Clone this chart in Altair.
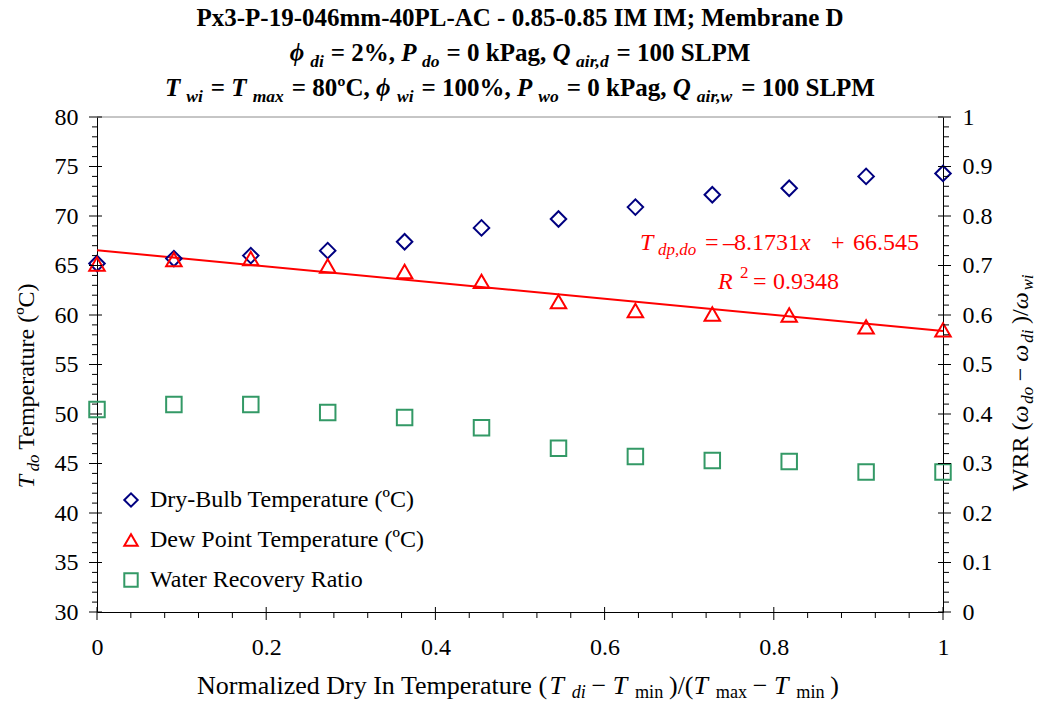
import altair as alt
import pandas as pd

# ---------------- data ----------------
x_norm = [0.0, 0.0909, 0.1818, 0.2727, 0.3636, 0.4545, 0.5455, 0.6364, 0.7273, 0.8182, 0.9091, 1.0]
dry_bulb = [65.2, 65.7, 66.0, 66.5, 67.4, 68.8, 69.7, 70.9, 72.15, 72.8, 74.0, 74.3]
dew_point = [65.15, 65.6, 65.7, 64.95, 64.4, 63.4, 61.35, 60.45, 60.1, 60.0, 58.8, 58.5]
wrr = [0.409, 0.419, 0.419, 0.403, 0.393, 0.372, 0.331, 0.314, 0.306, 0.304, 0.283, 0.283]
fit_slope = -8.1731
fit_intercept = 66.545

series = ["Dry-Bulb Temperature (ºC)", "Dew Point Temperature (ºC)", "Water Recovery Ratio"]
colors = ["#000080", "#FF0000", "#339966"]
shapes = ["diamond", "triangle-up", "square"]

x_ticks = [0, 0.2, 0.4, 0.6, 0.8, 1]
x_minor = [0.04, 0.08, 0.12, 0.16, 0.24, 0.28, 0.32, 0.36, 0.44, 0.48, 0.52, 0.56,
           0.64, 0.68, 0.72, 0.76, 0.84, 0.88, 0.92, 0.96]
t_ticks = [30, 35, 40, 45, 50, 55, 60, 65, 70, 75, 80]
t_minor = [v for v in range(30, 81) if v % 5]
w_ticks = [0, 0.1, 0.2, 0.3, 0.4, 0.5, 0.6, 0.7, 0.8, 0.9, 1]
w_minor = [i / 50 for i in range(51) if i % 5]

W, H = 846, 495
OX, OY = 97, 117
FONT = "Liberation Serif"

# ---------------- text metrics (Times-compatible widths /1000 em) ----------------
def _tbl(base, extra):
    d = dict(base)
    d.update(extra)
    return d

_digits = {str(i): 500 for i in range(10)}
W_R = _tbl(_digits, {' ': 250, '%': 833, '(': 333, ')': 333, '+': 564, ',': 250, '-': 333, '.': 250,
                     '/': 278, ';': 278, '=': 564, 'º': 310, '−': 564, '–': 500,
                     'A': 722, 'B': 667, 'C': 667, 'D': 722, 'I': 333, 'N': 722, 'R': 667, 'T': 611,
                     'W': 944, 'a': 444, 'd': 500, 'e': 444, 'i': 278, 'l': 278, 'm': 778, 'n': 500,
                     'o': 500, 'p': 500, 'r': 333, 't': 278, 'u': 500, 'x': 500, 'y': 500, 'z': 444})
W_I = _tbl(_digits, {' ': 250, ',': 250, 'T': 556, 'R': 611, 'a': 500, 'd': 500, 'i': 278, 'm': 722,
                     'o': 500, 'p': 500, 'w': 667, 'x': 444, 'ω': 667})
W_B = _tbl(_digits, {' ': 250, '%': 1000, ',': 250, '-': 333, '.': 250, ';': 333, '=': 570, 'º': 330,
                     'A': 722, 'C': 722, 'D': 722, 'I': 389, 'L': 667, 'M': 944, 'P': 611, 'S': 556,
                     'a': 500, 'b': 556, 'e': 444, 'g': 500, 'k': 556, 'm': 833, 'n': 556, 'r': 444,
                     'x': 500})
W_BI = _tbl(_digits, {' ': 250, ',': 250, 'T': 611, 'P': 611, 'Q': 722, 'a': 500, 'd': 500, 'i': 278,
                      'm': 778, 'o': 500, 'r': 389, 'w': 667, 'x': 500, 'ϕ': 600})
TABLES = {"r": W_R, "i": W_I, "b": W_B, "bi": W_BI}


def tw(s, st, fs):
    t = TABLES[st]
    return sum(t.get(c, 500) for c in s) / 1000.0 * fs


def rich(segs, cx, cy, fs, angle=0, color="black", sub_scale=0.7, pre=0.18, post=0.22, drop=0.22):
    """segs: list of (text, style, pos). Centered at (cx along, cy baseline) in plot coords."""
    if angle == 0:
        ux, uy, nx, ny = 1, 0, 0, 1
    else:  # 270: reads bottom to top
        ux, uy, nx, ny = 0, -1, 1, 0
    items = []
    for t, st, pos in segs:
        f = fs * sub_scale if pos != "n" else fs
        w = tw(t, st, f)
        if pos == "sub":
            items.append((t, st, pos, f, pre * fs, w + post * fs))
        else:
            items.append((t, st, pos, f, 0, w))
    total = sum(p + w for *_, p, w in items)
    s = -total / 2
    rows = []
    for t, st, pos, f, p, w in items:
        s += p
        shift = drop * fs if pos == "sub" else (-0.38 * fs if pos == "sup" else 0)
        px = cx + s * ux + shift * nx
        py = cy + s * uy + shift * ny
        rows.append(dict(px=px, py=py, txt=t, fs=f, ang=angle, st=st, col=color))
        s += w
    return rows


rows = []
# Title (bold, three lines)
TCX = W / 2
rows += rich([("Px3-P-19-046mm-40PL-AC - 0.85-0.85 IM IM; Membrane D", "b", "n")], TCX, 26 - OY, 25)
rows += rich([("ϕ", "bi", "n"), ("di", "bi", "sub"), ("= 2%, ", "b", "n"), ("P", "bi", "n"),
              ("do", "bi", "sub"), ("= 0 kPag, ", "b", "n"), ("Q", "bi", "n"), ("air,d", "bi", "sub"),
              ("= 100 SLPM", "b", "n")], TCX, 61 - OY, 25, pre=0.22, post=0.28)
rows += rich([("T", "bi", "n"), ("wi", "bi", "sub"), ("= ", "b", "n"), ("T", "bi", "n"),
              ("max", "bi", "sub"), ("= 80ºC, ", "b", "n"), ("ϕ", "bi", "n"), ("wi", "bi", "sub"),
              ("= 100%, ", "b", "n"), ("P", "bi", "n"), ("wo", "bi", "sub"), ("= 0 kPag, ", "b", "n"),
              ("Q", "bi", "n"), ("air,w", "bi", "sub"), ("= 100 SLPM", "b", "n")], TCX, 96 - OY, 25,
             pre=0.24, post=0.32)
# x-axis title
rows += rich([("Normalized Dry In Temperature (", "r", "n"), ("T", "i", "n"), ("di", "i", "sub"),
              ("− ", "r", "n"), ("T", "i", "n"), ("min", "r", "sub"), (")/(", "r", "n"), ("T", "i", "n"),
              ("max", "r", "sub"), ("− ", "r", "n"), ("T", "i", "n"), ("min", "r", "sub"), (")", "r", "n")],
             518 - OX, 694 - OY, 26, pre=0.3, post=0.22, drop=0.16)
# left y title (rotated)
rows += rich([("T", "i", "n"), ("do", "i", "sub"), (" Temperature (ºC)", "r", "n")],
             34 - OX, 382 - OY, 24, angle=270, pre=0.15, post=0.2)
# right y title (rotated)
rows += rich([("WRR (", "r", "n"), ("ω", "i", "n"), ("do", "i", "sub"), ("− ", "r", "n"), ("ω", "i", "n"),
              ("di", "i", "sub"), (")/", "r", "n"), ("ω", "i", "n"), ("wi", "i", "sub")],
             1028 - OX, 380 - OY, 24, angle=270, pre=0.12, post=0.24)


# regression equation (red), placed segment by segment
def seg(txt, st, x, y, fs):
    return dict(px=x - OX, py=y - OY, txt=txt, fs=fs, ang=0, st=st, col="#FF0000")


rows += [
    seg("T", "i", 640, 250, 24), seg("dp,do", "i", 658, 255, 17), seg("=", "r", 705, 250, 24),
    seg("–", "r", 723, 250, 24), seg("8.1731", "r", 734, 250, 24), seg("x", "i", 800, 250, 24),
    seg("+", "r", 831, 250, 24), seg("66.545", "r", 853, 250, 24),
    seg("R", "i", 718, 289, 24), seg("2", "r", 740, 278, 17), seg("=", "r", 753, 289, 24),
    seg("0.9348", "r", 773, 289, 24),
]
txt_df = pd.DataFrame(rows)

# ---------------- scales / encodings ----------------
x_scale = alt.Scale(domain=[0, 1], nice=False, zero=False)
t_scale = alt.Scale(domain=[30, 80], nice=False, zero=False)
w_scale = alt.Scale(domain=[0, 1], nice=False, zero=False)
color_scale = alt.Scale(domain=series, range=colors)
shape_scale = alt.Scale(domain=series, range=shapes)

legend = alt.Legend(orient="none", legendX=22, legendY=371, title=None, labelFont=FONT,
                    labelFontSize=24, labelColor="black", labelLimit=0, symbolSize=180,
                    symbolStrokeWidth=2, rowPadding=16, labelOffset=7, padding=0,
                    symbolFillColor="transparent")

axis_common = dict(title=None, ticks=False, tickSize=0, grid=False, domainColor="black", domainWidth=1,
                   labelFont=FONT, labelFontSize=24, labelColor="black", labelOverlap=False,
                   labelFlush=False, labelBound=False)
x_axis = alt.Axis(orient="bottom", values=x_ticks, format="~g", labelPadding=23, **axis_common)
t_axis = alt.Axis(orient="left", values=t_ticks, format="d", labelPadding=19, **axis_common)
w_axis = alt.Axis(orient="right", values=w_ticks, format="~g", labelPadding=19, **axis_common)

temp_df = pd.DataFrame({
    "x": x_norm * 2,
    "temp": dry_bulb + dew_point,
    "series": [series[0]] * len(x_norm) + [series[1]] * len(x_norm),
})
wrr_df = pd.DataFrame({"x": x_norm, "wrr": wrr, "series": [series[2]] * len(x_norm)})
fit_df = pd.DataFrame({"x": [0.0, 1.0]})
fit_df["y"] = fit_intercept + fit_slope * fit_df["x"]

pts_temp = alt.Chart(temp_df).mark_point(filled=False, strokeWidth=2, size=240, opacity=1).encode(
    x=alt.X("x:Q", scale=x_scale, axis=x_axis),
    y=alt.Y("temp:Q", scale=t_scale, axis=t_axis),
    color=alt.Color("series:N", scale=color_scale, legend=legend),
    shape=alt.Shape("series:N", scale=shape_scale, legend=legend),
)
fit_line = alt.Chart(fit_df).mark_line(color="#FF0000", strokeWidth=2).encode(
    x=alt.X("x:Q", scale=x_scale), y=alt.Y("y:Q", scale=t_scale))

t_major_df = pd.DataFrame({"v": t_ticks})
t_minor_df = pd.DataFrame({"v": t_minor})
x_major_df = pd.DataFrame({"v": x_ticks})
x_minor_df = pd.DataFrame({"v": x_minor})
w_major_df = pd.DataFrame({"v": w_ticks})
w_minor_df = pd.DataFrame({"v": w_minor})

rule = dict(color="black", strokeWidth=1)
t_major = alt.Chart(t_major_df).mark_rule(**rule).encode(
    y=alt.Y("v:Q", scale=t_scale), x=alt.value(-8), x2=alt.value(5))
t_minor_r = alt.Chart(t_minor_df).mark_rule(**rule).encode(
    y=alt.Y("v:Q", scale=t_scale), x=alt.value(-5), x2=alt.value(0))
x_major = alt.Chart(x_major_df).mark_rule(**rule).encode(
    x=alt.X("v:Q", scale=x_scale), y=alt.value(H - 5), y2=alt.value(H + 8))
x_minor_r = alt.Chart(x_minor_df).mark_rule(**rule).encode(
    x=alt.X("v:Q", scale=x_scale), y=alt.value(H), y2=alt.value(H + 6))
top_border = alt.Chart(x_major_df.head(1)).mark_rule(color="#8c8c8c", strokeWidth=1).encode(
    x=alt.value(0), x2=alt.value(W), y=alt.value(0))

temp_layer = alt.layer(top_border, fit_line, pts_temp, t_major, t_minor_r, x_major, x_minor_r)

pts_wrr = alt.Chart(wrr_df).mark_point(filled=False, strokeWidth=2, size=240, opacity=1).encode(
    x=alt.X("x:Q", scale=x_scale),
    y=alt.Y("wrr:Q", scale=w_scale, axis=w_axis),
    color=alt.Color("series:N", scale=color_scale, legend=legend),
    shape=alt.Shape("series:N", scale=shape_scale, legend=legend),
)
w_major = alt.Chart(w_major_df).mark_rule(**rule).encode(
    y=alt.Y("v:Q", scale=w_scale), x=alt.value(W - 5), x2=alt.value(W + 8))
w_minor_r = alt.Chart(w_minor_df).mark_rule(**rule).encode(
    y=alt.Y("v:Q", scale=w_scale), x=alt.value(W), x2=alt.value(W + 6))
wrr_layer = alt.layer(pts_wrr, w_major, w_minor_r)

text_layers = []
for (st, col), sub in txt_df.groupby(["st", "col"]):
    props = dict(align="left", baseline="alphabetic", font=FONT, color=col)
    if "i" in st:
        props["fontStyle"] = "italic"
    if "b" in st:
        props["fontWeight"] = "bold"
    text_layers.append(
        alt.Chart(sub.reset_index(drop=True)).mark_text(**props).encode(
            x=alt.X("px:Q", scale=None, axis=None),
            y=alt.Y("py:Q", scale=None, axis=None),
            text="txt:N",
            size=alt.Size("fs:Q", scale=None, legend=None),
            angle=alt.Angle("ang:Q", scale=None),
        )
    )

chart = alt.layer(temp_layer, wrr_layer, *text_layers).resolve_scale(y="independent").properties(
    width=W, height=H,
    padding={"left": OX, "top": OY, "right": 1040 - OX - W, "bottom": 705 - OY - H},
    autosize=alt.AutoSizeParams(type="none"),
    background="white",
).configure_view(stroke=None)

chart.save("out.html", embed_options={"renderer": "svg", "actions": False})
